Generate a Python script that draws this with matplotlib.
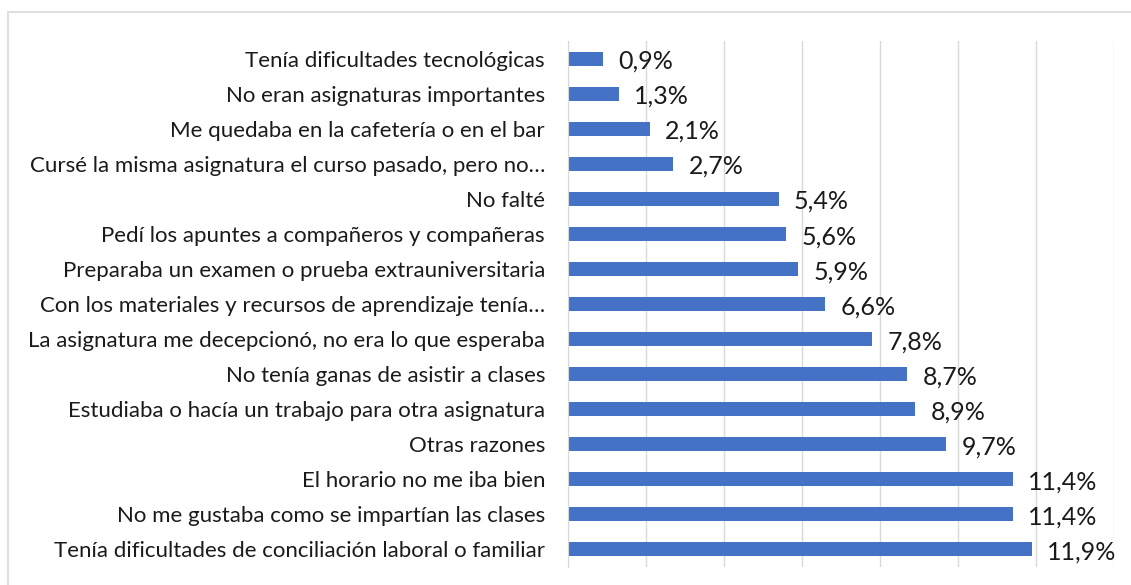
import matplotlib.pyplot as plt
from matplotlib.patches import Rectangle

# DATA (top to bottom)
labels = [
    "Tenía dificultades tecnológicas",
    "No eran asignaturas importantes",
    "Me quedaba en la cafetería o en el bar",
    "Cursé la misma asignatura el curso pasado, pero no…",
    "No falté",
    "Pedí los apuntes a compañeros y compañeras",
    "Preparaba un examen o prueba extrauniversitaria",
    "Con los materiales y recursos de aprendizaje tenía…",
    "La asignatura me decepcionó, no era lo que esperaba",
    "No tenía ganas de asistir a clases",
    "Estudiaba o hacía un trabajo para otra asignatura",
    "Otras razones",
    "El horario no me iba bien",
    "No me gustaba como se impartían las clases",
    "Tenía dificultades de conciliación laboral o familiar",
]
values = [0.9, 1.3, 2.1, 2.7, 5.4, 5.6, 5.9, 6.6, 7.8, 8.7, 8.9, 9.7, 11.4, 11.4, 11.9]

W, H = 1131, 585
plt.rcParams['font.family'] = ['Lato', 'DejaVu Sans']

fig = plt.figure(figsize=(W / 100, H / 100), dpi=100)
ax = fig.add_axes([568 / W, 1 - 567 / H, (1114 - 568) / W, (567 - 41) / H])

# chart frame (right and bottom edges fall outside the picture)
fig.patches.append(Rectangle((7.5 / W, -0.1), 1.5, 1.1 - 12.5 / H, transform=fig.transFigure,
                             fill=False, edgecolor="#d9d9d9", linewidth=1.2))

pos = list(range(len(values)))
ax.barh(pos, values, height=0.4, color="#4472C4")
ax.set_ylim(len(values) - 0.5, -0.5)
ax.set_xlim(0, 14)
ax.set_xticks(range(0, 15, 2))
ax.set_xticklabels([])
ax.tick_params(axis="x", length=0)
ax.grid(axis="x", color="#d9d9d9", linewidth=1)
ax.set_axisbelow(True)

ax.set_yticks(pos)
ax.set_yticklabels(labels, fontsize=16, color="#1a1a1a")
ax.tick_params(axis="y", length=0, pad=16.5)

for s in ["top", "right", "bottom"]:
    ax.spines[s].set_visible(False)
ax.spines["left"].set_color("#d9d9d9")

for p, v in zip(pos, values):
    ax.annotate("{:.1f}%".format(v).replace(".", ","), (v, p), xytext=(11, -2),
                textcoords="offset points", fontsize=18, va="center", ha="left", color="#1a1a1a")

fig.savefig("out.png", dpi=100)
